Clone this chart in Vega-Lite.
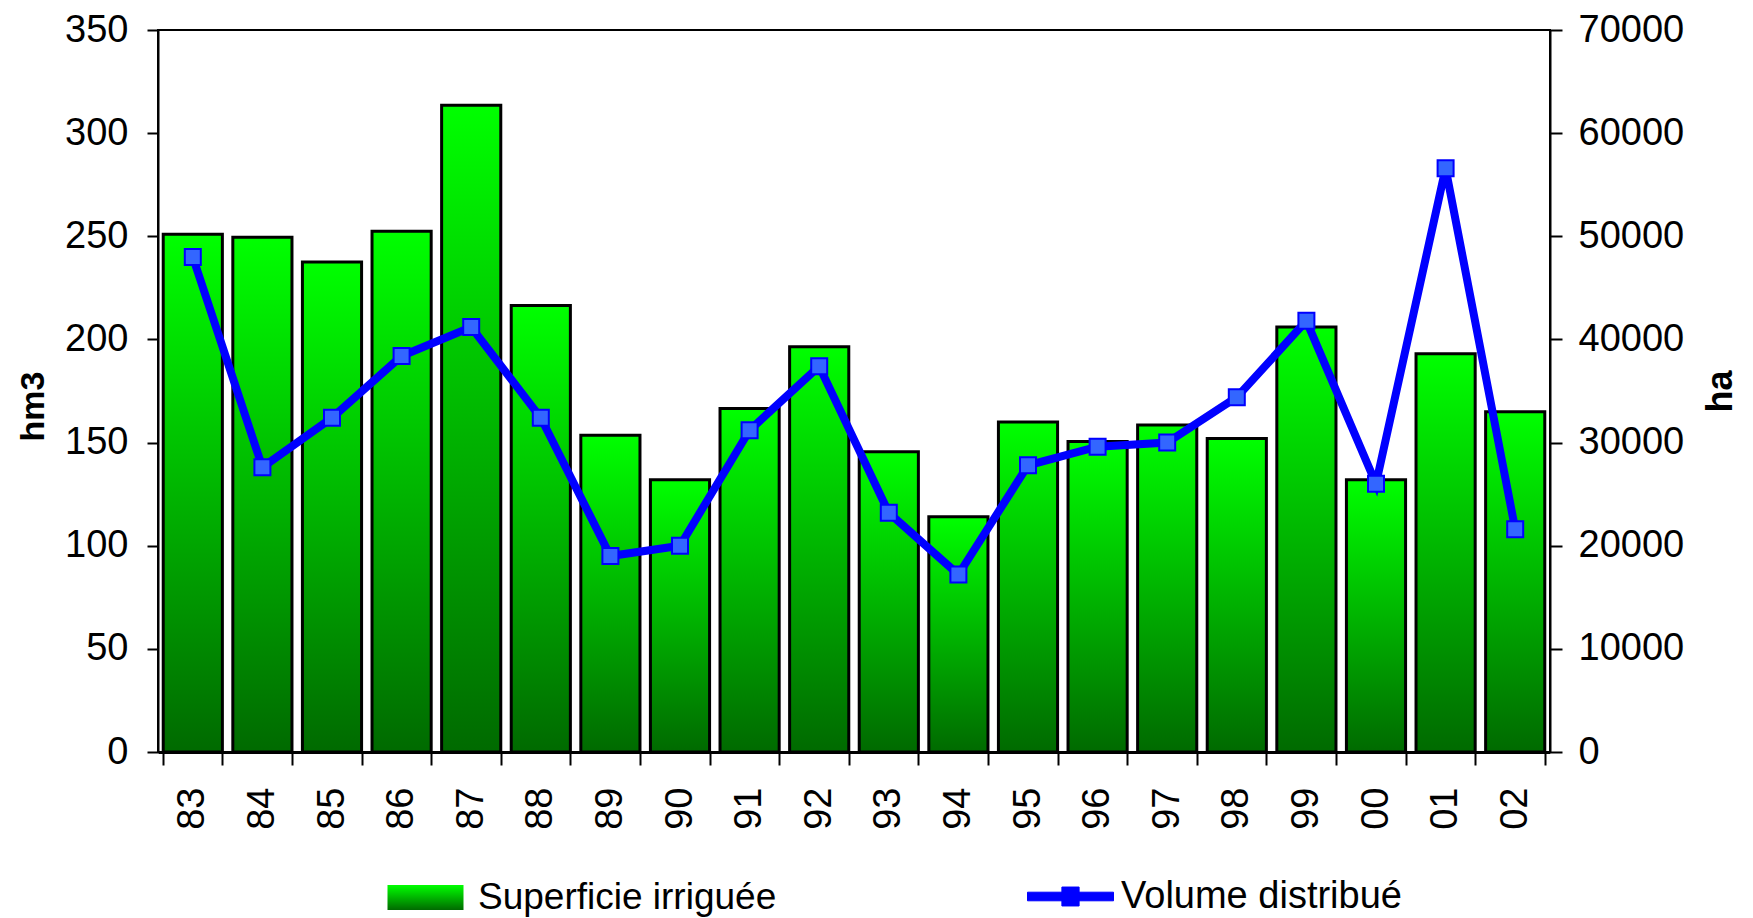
{
  "$schema": "https://vega.github.io/schema/vega-lite/v6.json",
  "width": 1392,
  "height": 722,
  "autosize": {"type": "none"},
  "padding": {"left": 158, "top": 30, "right": 203, "bottom": 166},
  "background": "white",
  "config": {
    "view": {"stroke": "black", "strokeWidth": 2},
    "font": "Liberation Sans",
    "axis": {"labelFont": "Liberation Sans", "labelColor": "black", "titleColor": "black", "grid": false},
    "legend": {"labelFont": "Liberation Sans", "labelColor": "black"}
  },
  "data": {
    "values": [
      {"year": "83", "ha": 50200, "hm3": 240},
      {"year": "84", "ha": 49900, "hm3": 138},
      {"year": "85", "ha": 47500, "hm3": 162},
      {"year": "86", "ha": 50500, "hm3": 192},
      {"year": "87", "ha": 62700, "hm3": 206},
      {"year": "88", "ha": 43300, "hm3": 162},
      {"year": "89", "ha": 30700, "hm3": 95},
      {"year": "90", "ha": 26400, "hm3": 100},
      {"year": "91", "ha": 33300, "hm3": 156},
      {"year": "92", "ha": 39300, "hm3": 187},
      {"year": "93", "ha": 29100, "hm3": 116},
      {"year": "94", "ha": 22800, "hm3": 86},
      {"year": "95", "ha": 32000, "hm3": 139},
      {"year": "96", "ha": 30100, "hm3": 148},
      {"year": "97", "ha": 31700, "hm3": 150},
      {"year": "98", "ha": 30400, "hm3": 172},
      {"year": "99", "ha": 41200, "hm3": 209},
      {"year": "00", "ha": 26400, "hm3": 130},
      {"year": "01", "ha": 38600, "hm3": 283},
      {"year": "02", "ha": 33000, "hm3": 108}
    ]
  },
  "encoding": {
    "x": {
      "field": "year",
      "type": "nominal",
      "sort": null,
      "scale": {"paddingInner": 0.15, "paddingOuter": 0.075},
      "axis": {
        "title": null,
        "orient": "bottom",
        "labelAngle": 270,
        "labelFontSize": 38,
        "labelPadding": 22,
        "tickBand": "extent",
        "tickSize": 13,
        "tickWidth": 2,
        "tickColor": "black",
        "domainColor": "black",
        "domainWidth": 3
      }
    }
  },
  "layer": [
    {
      "mark": {
        "type": "bar",
        "fill": {
          "gradient": "linear",
          "x1": 0, "y1": 0, "x2": 0, "y2": 1,
          "stops": [
            {"offset": 0, "color": "#00ff00"},
            {"offset": 1, "color": "#006a00"}
          ]
        },
        "stroke": "black",
        "strokeWidth": 3
      },
      "encoding": {
        "y": {
          "field": "ha",
          "type": "quantitative",
          "scale": {"domain": [0, 70000], "nice": false},
          "axis": {
            "orient": "right",
            "values": [0, 10000, 20000, 30000, 40000, 50000, 60000, 70000],
            "format": "d",
            "labelFontSize": 38,
            "labelPadding": 16,
            "tickSize": 12,
            "tickWidth": 2,
            "tickColor": "black",
            "domainColor": "black",
            "domainWidth": 2,
            "title": "ha",
            "titleFont": "Liberation Sans",
            "titleFontSize": 36,
            "titleFontWeight": "bold",
            "titleAngle": 270,
            "titlePadding": 56
          }
        },
        "opacity": {
          "datum": "Superficie irriguée",
          "type": "ordinal",
          "scale": {"range": [1]},
          "legend": {
            "title": null,
            "orient": "none",
            "legendX": 228,
            "legendY": 828,
            "padding": 0,
            "symbolType": "M-1,-0.33H1V0.33H-1Z",
            "symbolSize": 5776,
            "symbolFillColor": "#00cc00",
            "symbolStrokeColor": "black",
            "symbolStrokeWidth": 3,
            "symbolOpacity": 1,
            "labelFontSize": 37,
            "labelOffset": 13,
            "labelLimit": 600,
            "encode": {
              "symbols": {
                "enter": {
                  "stroke": {"value": "#000000"},
                  "strokeWidth": {"value": 3}
                },
                "update": {
                  "fill": {
                    "value": {
                      "gradient": "linear",
                      "x1": 0, "y1": 0, "x2": 0, "y2": 1,
                      "stops": [
                        {"offset": 0, "color": "#00ff00"},
                        {"offset": 1, "color": "#006a00"}
                      ]
                    }
                  },
                  "stroke": {"value": "#000000"},
                  "strokeWidth": {"value": 3},
                  "strokeOpacity": {"value": 1},
                  "fillOpacity": {"value": 1},
                  "opacity": {"value": 1}
                }
              }
            }
          }
        }
      }
    },
    {
      "mark": {
        "type": "line",
        "strokeWidth": 8,
        "point": {
          "shape": "square",
          "size": 256,
          "filled": true,
          "fill": "#3366ff",
          "stroke": "#0000ff",
          "strokeWidth": 2
        }
      },
      "encoding": {
        "y": {
          "field": "hm3",
          "type": "quantitative",
          "scale": {"domain": [0, 350], "nice": false},
          "axis": {
            "orient": "left",
            "values": [0, 50, 100, 150, 200, 250, 300, 350],
            "labelFontSize": 38,
            "labelPadding": 19,
            "tickSize": 11,
            "tickWidth": 2,
            "tickColor": "black",
            "domainColor": "black",
            "domainWidth": 2,
            "title": "hm3",
            "titleFont": "Liberation Sans",
            "titleFontSize": 34,
            "titleFontWeight": "bold",
            "titleAngle": 270,
            "titlePadding": 14,
            "titleY": 376
          }
        },
        "stroke": {
          "datum": "Volume distribué",
          "type": "nominal",
          "scale": {"range": ["#0000ff"]},
          "legend": {
            "title": null,
            "orient": "none",
            "legendX": 869,
            "legendY": 823,
            "padding": 0,
            "symbolType": "M-1,-0.1H1V0.1H-1Z M-0.2,-0.22H0.2V0.22H-0.2Z",
            "symbolSize": 7396,
            "symbolFillColor": "#0000ff",
            "symbolStrokeColor": "#0000ff",
            "symbolStrokeWidth": 1,
            "labelFontSize": 38,
            "labelOffset": 7,
            "labelLimit": 600,
            "encode": {
              "symbols": {
                "update": {
                  "fill": {"value": "#0000ff"},
                  "stroke": {"value": "#0000ff"},
                  "strokeWidth": {"value": 1},
                  "opacity": {"value": 1}
                }
              }
            }
          }
        }
      }
    }
  ],
  "resolve": {"scale": {"y": "independent"}}
}
